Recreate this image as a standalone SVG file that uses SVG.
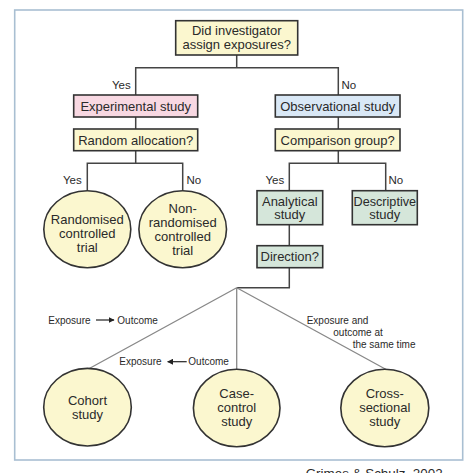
<svg xmlns="http://www.w3.org/2000/svg" width="474" height="473" viewBox="0 0 474 473">
<style>
text{font-family:"Liberation Sans",Arial,sans-serif;fill:#2a2a2a}
.t{font-size:13px;text-anchor:middle}
.l{font-size:11.5px}
.s{font-size:10px}
.box{stroke:#333;stroke-width:1.6}
.y{fill:#fbf7cf}
.p{fill:#f8d8e2}
.b{fill:#d9e8f6}
.g{fill:#d5e6da}
.c{fill:none;stroke:#444;stroke-width:1.5}
.d{fill:none;stroke:#888;stroke-width:1.3}
</style>
<defs>
<marker id="ah" viewBox="0 0 10 10" refX="9" refY="5" markerWidth="6" markerHeight="6" markerUnits="userSpaceOnUse" orient="auto">
<path d="M0,0 L10,5 L0,10 Z" fill="#222"/>
</marker>
</defs>
<rect x="0" y="0" width="474" height="473" fill="#fff"/>
<rect x="14.7" y="10" width="448" height="450" fill="#fff" stroke="#a9bfd2" stroke-width="1.6"/>
<g id="connectors">
<path class="c" d="M236.7,55 V67.7 M135.7,95 V67.7 H338.3 V95"/>
<path class="c" d="M135.7,117 V129 M338.3,117 V129"/>
<path class="c" d="M135.7,150.7 V163.3 M87.3,190.7 V163.3 H182.7 V190.7"/>
<path class="c" d="M338.3,150.7 V163.3 M289.3,190.7 V163.3 H385.7 V190.7"/>
<path class="c" d="M289.3,224.7 V245.7 M289.3,267.7 V287.7 H236.7"/>
<path class="d" d="M236.7,287.7 L89.3,368.5 M236.7,287.7 V369.3 M236.7,287.7 L385.7,369.3"/>
<line x1="96" y1="320" x2="114" y2="320" stroke="#222" stroke-width="1.2" marker-end="url(#ah)"/>
<line x1="186.7" y1="361.7" x2="167.7" y2="361.7" stroke="#222" stroke-width="1.2" marker-end="url(#ah)"/>
</g>
<g id="labels">
<text class="l" x="112" y="89">Yes</text>
<text class="l" x="341.5" y="89">No</text>
<text class="l" x="63" y="184">Yes</text>
<text class="l" x="186.5" y="184">No</text>
<text class="l" x="265.5" y="184">Yes</text>
<text class="l" x="388.5" y="184">No</text>
<text class="s" x="48.3" y="323.5">Exposure</text>
<text class="s" x="117.3" y="323.5">Outcome</text>
<text class="s" x="119.3" y="365.2">Exposure</text>
<text class="s" x="188.3" y="365.2">Outcome</text>
<text class="s" x="306.7" y="323.5">Exposure and</text>
<text class="s" x="333.3" y="335.8">outcome at</text>
<text class="s" x="352.7" y="347.5">the same time</text>
</g>
<g id="n-assign">
<rect class="box y" x="175.7" y="20.7" width="122" height="34.3"/>
<text class="t" x="236.7" y="35">Did investigator</text>
<text class="t" x="236.7" y="49">assign exposures?</text>
</g>
<g id="n-experimental">
<rect class="box p" x="73.7" y="95" width="124" height="22"/>
<text class="t" x="135.7" y="110.5">Experimental study</text>
</g>
<g id="n-observational">
<rect class="box b" x="275.3" y="95" width="124.7" height="22"/>
<text class="t" x="337.7" y="110.5">Observational study</text>
</g>
<g id="n-random">
<rect class="box y" x="73.7" y="129" width="124" height="21.7"/>
<text class="t" x="135.7" y="144.5">Random allocation?</text>
</g>
<g id="n-comparison">
<rect class="box y" x="275.3" y="129" width="124.7" height="21.7"/>
<text class="t" x="337.7" y="144.5">Comparison group?</text>
</g>
<g id="n-rct">
<ellipse class="box y" cx="87.3" cy="229.2" rx="43.5" ry="38.5"/>
<text class="t" x="87.3" y="223.8">Randomised</text>
<text class="t" x="87.3" y="237.8">controlled</text>
<text class="t" x="87.3" y="251.8">trial</text>
</g>
<g id="n-nrct">
<ellipse class="box y" cx="182.7" cy="229.2" rx="43.8" ry="38.5"/>
<text class="t" x="182.7" y="212.8">Non-</text>
<text class="t" x="182.7" y="226.8">randomised</text>
<text class="t" x="182.7" y="240.8">controlled</text>
<text class="t" x="182.7" y="254.8">trial</text>
</g>
<g id="n-analytical">
<rect class="box g" x="257" y="190.7" width="65.7" height="34"/>
<text class="t" x="289.8" y="205.5">Analytical</text>
<text class="t" x="289.8" y="219.2">study</text>
</g>
<g id="n-descriptive">
<rect class="box g" x="352.3" y="190.7" width="65" height="34"/>
<text class="t" x="384.8" y="205.5" textLength="62.5" lengthAdjust="spacingAndGlyphs">Descriptive</text>
<text class="t" x="384.8" y="219.2">study</text>
</g>
<g id="n-direction">
<rect class="box g" x="257" y="245.7" width="65.7" height="22"/>
<text class="t" x="289.8" y="261.2">Direction?</text>
</g>
<g id="n-cohort">
<ellipse class="box y" cx="87.5" cy="407.2" rx="43.8" ry="38.8"/>
<text class="t" x="87.5" y="404.5">Cohort</text>
<text class="t" x="87.5" y="418.8">study</text>
</g>
<g id="n-casecontrol">
<ellipse class="box y" cx="236.7" cy="408" rx="43.3" ry="38.7"/>
<text class="t" x="236.7" y="397.8">Case-</text>
<text class="t" x="236.7" y="411.8">control</text>
<text class="t" x="236.7" y="426">study</text>
</g>
<g id="n-crosssectional">
<ellipse class="box y" cx="384.8" cy="408" rx="44" ry="38.7"/>
<text class="t" x="384.8" y="397.8">Cross-</text>
<text class="t" x="384.8" y="411.8">sectional</text>
<text class="t" x="384.8" y="426">study</text>
</g>
<text x="305.7" y="478" style="font-size:13.4px">Grimes &amp; Schulz, 2002</text>
</svg>
